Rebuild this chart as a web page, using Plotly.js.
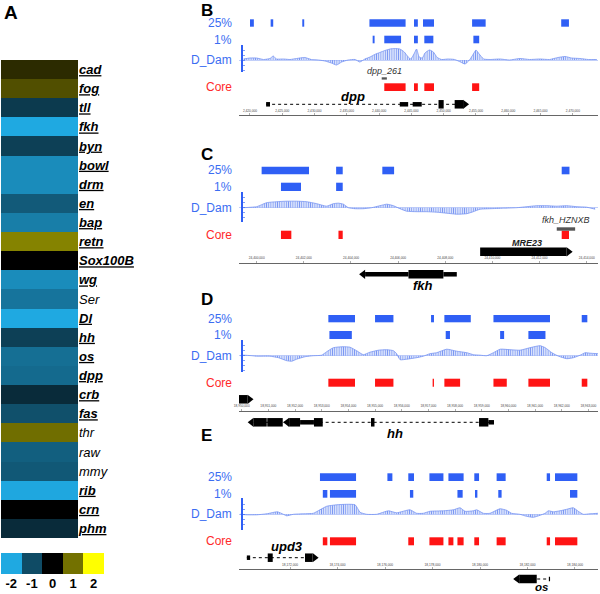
<!DOCTYPE html>
<html><head><meta charset="utf-8">
<script src="https://cdn.plot.ly/plotly-3.0.1.min.js"></script>
<style>html,body{margin:0;padding:0;background:#fff}#chart{width:600px;height:594px}</style>
</head><body><div id="chart"></div>
<script>
// ---------------- Panel A data ----------------
const genes = ['cad','fog','tll','fkh','byn','bowl','drm','en','bap','retn','Sox100B','wg','Ser','Dl','hh','os','dpp','crb','fas','thr','raw','mmy','rib','crn','phm'];
const foldChange = [0.38,0.7,-0.77,-2,-0.85,-1.69,-1.69,-1.16,-1.54,1.13,0,-1.69,-1.44,-2,-0.85,-1.38,-1.33,-0.57,-1.05,0.97,-1.21,-1.14,-1.98,0,-0.57];
const validated = [1,1,1,1,1,1,1,1,1,1,1,1,0,1,1,1,1,1,1,0,0,0,1,1,1];
const scaleVals = [-2,-1,0,1,2];

// ---------------- Panel B (dpp) ----------------
const B_range = [2418.3,2473.9];
const B_ticks = [2420,2425,2430,2435,2440,2445,2450,2455,2460,2465,2470];
const B_p25 = [[2420.0,2420.6],[2423.2,2423.6],[2428.1,2428.4],[2438.5,2444.1],[2445.4,2446.0],[2446.8,2448.5],[2454.4,2456.5],[2468.2,2469.4]];
const B_p1 = [[2439.0,2439.3],[2440.8,2443.4],[2445.4,2446.0],[2447.0,2448.4],[2454.6,2455.5]];
const B_core = [[2440.8,2444.1],[2445.4,2446.0],[2447.0,2448.5],[2454.4,2455.5]];
const B_sigX = [2419.0,2420.0,2421.0,2422.1,2423.1,2423.6,2424.1,2425.2,2426.2,2427.2,2428.5,2429.5,2430.6,2431.6,2432.6,2433.4,2434.2,2435.2,2436.3,2437.0,2437.8,2438.6,2439.3,2440.1,2440.9,2441.7,2442.4,2443.2,2443.9,2444.5,2444.9,2445.4,2445.8,2446.2,2446.7,2447.1,2447.8,2448.4,2449.0,2449.7,2450.7,2451.7,2452.6,2453.3,2454.0,2454.6,2455.0,2455.5,2456.2,2457.2,2458.7,2460.2,2461.8,2463.3,2464.9,2466.4,2467.7,2468.8,2469.8,2471.1,2472.4,2473.7];
const B_sigY = [0.1,0.2,0.2,0.05,0.15,0.4,0.1,0.1,0.05,0.15,0.25,0.05,0.0,-0.1,-0.3,-0.5,-0.2,0.0,0.05,-0.2,0.1,0.3,0.55,0.75,0.95,1.1,1.15,1.1,0.8,0.3,0.1,0.6,1.1,0.3,0.2,0.7,1.0,0.8,0.25,0.05,0.1,0.05,-0.2,-0.4,0.0,0.6,1.0,0.6,0.1,0.05,0.1,0.0,0.15,0.05,0.1,0.05,0.25,0.35,0.2,0.15,0.05,0.05];
const B_probes = [{name:'dpp_261', start:2440.4, end:2441.2}];
const B_genes = [{name:'dpp', strand:'+', exons:[[2422.5,2423.1,'utr'],[2443.2,2444.5,'utr'],[2445.2,2446.6,'utr'],[2449.2,2450.0,'cds'],[2451.7,2453.0,'cds']], arrowAt:[2453.0], labelAt:2435.9, intron:true}];

// ---------------- Panel C (fkh) ----------------
const C_range = [24399.25,24414.48];
const C_ticks = [24400,24402,24404,24406,24408,24410,24412,24414];
const C_p25 = [[24400.21,24402.22],[24403.37,24403.65],[24405.33,24405.83],[24412.94,24413.27]];
const C_p1 = [[24401.03,24401.88],[24403.37,24403.65]];
const C_core = [[24401.03,24401.47],[24403.47,24403.65],[24412.94,24413.25]];
const C_sigX = [24399.43,24400.0,24400.21,24400.42,24400.85,24401.27,24401.70,24402.12,24402.55,24402.97,24403.25,24403.47,24403.68,24403.89,24404.17,24404.53,24404.88,24405.23,24405.52,24405.80,24406.08,24406.36,24406.79,24407.21,24407.64,24408.06,24408.49,24408.91,24409.19,24409.48,24409.90,24410.47,24411.03,24411.46,24411.88,24412.31,24412.73,24413.15,24413.58,24414.00,24414.36];
const C_sigY = [0.0,0.1,0.3,0.5,0.6,0.65,0.65,0.6,0.4,0.15,0.4,0.45,0.35,0.0,-0.1,-0.1,0.0,0.2,0.35,0.2,-0.1,-0.35,-0.4,-0.4,-0.45,-0.55,-0.65,-0.6,-0.4,-0.15,-0.1,-0.05,0.0,0.1,0.2,0.2,0.15,0.2,0.1,0.05,-0.15];
const C_probes = [{name:'fkh_HZNXB', start:24412.73, end:24413.51}];
const C_genes = [
  {name:'MRE23', strand:'+', exons:[[24409.48,24413.15,'cds']], arrowAt:[24413.15], labelAt:24411.46, intron:false},
  {name:'fkh', strand:'-', exons:[[24404.6,24406.44,'utr'],[24406.44,24407.92,'cds'],[24407.92,24408.49,'utr']], arrowAt:[24404.6], labelAt:24407.07, intron:false}
];

// ---------------- Panel D (hh) ----------------
const D_range = [18949.9,18963.36];
const D_ticks = [18950,18951,18952,18953,18954,18955,18956,18957,18958,18959,18960,18961,18962,18963];
const D_p25 = [[18953.25,18954.25],[18955.0,18955.69],[18957.1,18957.21],[18957.6,18958.59],[18959.44,18961.56],[18962.75,18962.96]];
const D_p1 = [[18953.29,18954.13],[18957.65,18957.81],[18959.69,18959.84],[18960.75,18961.39]];
const D_core = [[18953.25,18954.25],[18955.0,18955.69],[18957.16,18957.21],[18957.6,18958.19],[18959.44,18959.94],[18960.75,18961.56],[18962.75,18962.96]];
const D_sigX = [18949.94,18950.06,18950.38,18950.56,18951.06,18951.38,18951.69,18951.88,18952.06,18952.38,18952.69,18953.0,18953.19,18953.44,18953.81,18954.06,18954.31,18954.56,18954.81,18955.13,18955.44,18955.69,18955.81,18955.94,18956.19,18956.56,18956.81,18957.06,18957.31,18957.69,18958.06,18958.44,18958.69,18958.94,18959.19,18959.44,18959.69,18960.06,18960.44,18960.81,18961.19,18961.38,18961.63,18961.88,18962.19,18962.44,18962.69,18962.88,18963.06,18963.36];
const D_sigY = [0.0,0.05,0.0,-0.05,-0.05,-0.2,-0.5,-0.55,-0.35,-0.1,0.0,0.05,0.4,0.8,0.9,0.85,0.5,0.1,0.35,0.55,0.6,0.5,0.2,-0.4,-0.35,-0.2,-0.05,0.2,0.3,0.65,0.45,0.3,0.1,0.05,0.0,0.3,0.65,0.6,0.55,0.8,1.0,0.8,0.3,-0.05,-0.3,-0.2,0.05,0.3,0.25,0.2];
const D_probes = [];
const D_genes = [
  {name:'', strand:'+', exons:[[18949.9,18950.22,'cds']], arrowAt:[18950.22], labelAt:null, intron:false},
  {name:'hh', strand:'-', exons:[[18950.45,18950.94,'cds'],[18950.96,18951.54,'cds'],[18951.78,18952.19,'cds'],[18952.19,18952.71,'utr'],[18952.71,18953.04,'cds'],[18954.85,18954.98,'cds'],[18958.9,18959.25,'cds'],[18959.25,18959.46,'utr']], arrowAt:[18950.45,18951.78], labelAt:18955.75, intron:true}
];

// ---------------- Panel E (upd3 / os) ----------------
const E_range = [18169.85,18184.97];
const E_ticks = [18172,18174,18176,18178,18180,18182,18184];
const E_p25 = [[18173.26,18174.78],[18176.10,18176.31],[18176.98,18177.22],[18177.87,18178.46],[18178.67,18179.31],[18179.76,18179.96],[18180.70,18181.08],[18182.81,18182.95],[18183.16,18184.10]];
const E_p1 = [[18173.38,18173.57],[18173.68,18174.78],[18177.05,18177.19],[18179.05,18179.27],[18179.79,18179.89],[18180.77,18180.91],[18183.79,18184.10]];
const E_core = [[18173.38,18173.57],[18173.68,18174.78],[18176.98,18177.22],[18177.87,18178.46],[18178.67,18178.88],[18179.05,18179.31],[18179.76,18179.96],[18180.70,18181.08],[18182.81,18182.95],[18183.16,18184.10]];
const E_sigX = [18169.89,18170.18,18170.60,18171.02,18171.47,18171.72,18171.86,18172.14,18172.56,18172.98,18173.26,18173.54,18173.96,18174.39,18174.74,18174.95,18175.23,18175.65,18176.14,18176.49,18177.05,18177.33,18177.61,18177.89,18178.46,18178.88,18179.16,18179.37,18179.72,18179.86,18180.14,18180.42,18180.84,18181.12,18181.33,18181.68,18181.96,18182.25,18182.53,18182.74,18182.88,18183.09,18183.37,18183.65,18183.93,18184.14,18184.35,18184.63,18184.97];
const E_sigY = [0.0,-0.05,-0.05,0.05,0.25,0.0,-0.15,0.0,0.05,0.1,0.45,0.8,0.95,1.0,0.95,0.2,0.0,0.0,0.35,0.15,0.45,0.1,0.1,0.3,0.35,0.45,0.65,0.3,0.35,0.45,0.1,0.1,0.55,0.4,0.1,0.0,-0.2,-0.3,-0.1,0.1,0.35,0.25,0.35,0.5,0.65,0.3,0.0,0.05,0.1];
const E_probes = [];
const E_genes = [
  {name:'upd3', strand:'+', exons:[[18170.18,18170.32,'utr'],[18171.06,18171.27,'cds'],[18172.63,18172.95,'cds']], arrowAt:[18172.95], labelAt:18171.86, intron:true},
  {name:'os', strand:'-', exons:[[18181.65,18182.39,'cds'],[18182.90,18182.95,'utr']], arrowAt:[18181.65], labelAt:18182.6, intron:true}
];

// ---------------- layout constants (pixels) ----------------
const W = 600, H = 594;
const fx = v => v / W;
const fy = v => 1 - v / H;
const BLUE = '#2f5ff5', BLUE_TXT = '#3b6df2', RED = '#ff1414', RED_TXT = '#ff2a2a';
const FONT = 'Liberation Sans, Arial, Helvetica, sans-serif';
const X0 = 239, X1 = 598, SIGX = 242, LABX = 234;

const panels = [
  {letter:'B', letterY:10.5, range:B_range, ticks:B_ticks, p25:B_p25, p1:B_p1, core:B_core, sigX:B_sigX, sigY:B_sigY, probes:B_probes, genes:B_genes,
   rows:{p25:[19.3,26.7], p1:[35.7,43.3], sig:[45,72,60], core:[83.3,91], ruler:115, probe:[77.3,79.6,71.5]},
   geneRows:[[104.3,96]]},
  {letter:'C', letterY:154, range:C_range, ticks:C_ticks, p25:C_p25, p1:C_p1, core:C_core, sigX:C_sigX, sigY:C_sigY, probes:C_probes, genes:C_genes,
   rows:{p25:[166.7,174.3], p1:[182.7,191], sig:[192.3,222.3,207.7], core:[230.7,239], ruler:262.7, probe:[227.3,230.7,220]},
   geneRows:[[251.8,243.3],[274.3,285.7]]},
  {letter:'D', letterY:299, range:D_range, ticks:D_ticks, p25:D_p25, p1:D_p1, core:D_core, sigX:D_sigX, sigY:D_sigY, probes:D_probes, genes:D_genes,
   rows:{p25:[315,322.3], p1:[331,339], sig:[340,371.7,355.7], core:[378.7,386.7], ruler:410.7},
   geneRows:[[399.3,null],[422.3,433.3]]},
  {letter:'E', letterY:435, range:E_range, ticks:E_ticks, p25:E_p25, p1:E_p1, core:E_core, sigX:E_sigX, sigY:E_sigY, probes:E_probes, genes:E_genes,
   rows:{p25:[473.3,481], p1:[490,497.7], sig:[498.3,530,514.3], core:[537.3,545.3], ruler:569.3},
   geneRows:[[557.7,546.7],[579,586.8]]}
];

const cscale = [[0,'#1fa9e1'],[0.25,'#0f4b65'],[0.5,'#000000'],[0.75,'#737100'],[1,'#ffff00']];
const fmtLabel = (g, v) => v ? '<b><i><u>' + g + '</u></i></b>' : '<i>' + g + '</i>';

const traces = [
  {type:'heatmap', x:[0], y:genes, z:foldChange.map(v => [v]), xaxis:'x', yaxis:'y', colorscale:cscale, zmin:-2, zmax:2, showscale:false, hoverinfo:'skip'},
  {type:'heatmap', x:scaleVals, y:[0], z:[scaleVals], xaxis:'x2', yaxis:'y2', colorscale:cscale, zmin:-2, zmax:2, showscale:false, hoverinfo:'skip'}
];

const layout = {
  width:W, height:H, margin:{l:0,r:0,t:0,b:0}, paper_bgcolor:'#fff', plot_bgcolor:'rgba(0,0,0,0)',
  showlegend:false, font:{family:FONT, color:'#000'}, shapes:[], annotations:[],
  xaxis:{domain:[fx(1),fx(78)], range:[-0.5,0.5], showticklabels:false, ticks:'', showgrid:false, zeroline:false, anchor:'y'},
  yaxis:{domain:[fy(538),fy(60)], type:'category', autorange:'reversed', side:'right', anchor:'x',
         tickvals:genes, ticktext:genes.map((g,i) => fmtLabel(g, validated[i])), ticks:'', showgrid:false, zeroline:false,
         tickfont:{size:13, family:FONT, color:'#000'}},
  xaxis2:{domain:[fx(1),fx(104)], anchor:'y2', tickvals:scaleVals, ticktext:scaleVals.map(v => '<b>' + v + '</b>'), ticks:'', showgrid:false, zeroline:false,
          tickfont:{size:13, family:FONT, color:'#000'}},
  yaxis2:{domain:[fy(574),fy(553)], anchor:'x2', showticklabels:false, ticks:'', showgrid:false, zeroline:false}
};

layout.annotations.push({text:'<b>A</b>', xref:'paper', yref:'paper', x:fx(2), y:fy(12), xanchor:'left', yanchor:'middle', showarrow:false, font:{size:19, family:FONT}});

const rect = (xa, x0, x1, yTop, yBot, color) => ({type:'rect', xref:xa, yref:'paper', x0:x0, x1:x1, y0:fy(yBot), y1:fy(yTop), fillcolor:color, line:{width:0}, layer:'above'});

panels.forEach((p, i) => {
  const n = i + 3, xa = 'x' + n, ya = 'y' + n, r = p.rows;
  layout['xaxis' + n] = {domain:[fx(X0),fx(X1)], range:p.range, anchor:'free', position:fy(r.ruler), side:'top',
    showline:true, linecolor:'#666', linewidth:1, ticks:'outside', ticklen:2, tickwidth:0.6, tickcolor:'#777',
    tickvals:p.ticks, ticktext:p.ticks.map(t => Math.round(t * 1000).toLocaleString('en-US')),
    tickfont:{size:3.2, color:'#444', family:FONT}, showgrid:false, zeroline:false};
  const [sTop, sBot, sBase] = r.sig;
  layout['yaxis' + n] = {domain:[fy(sBot), fy(sTop)], range:[-(sBot - sBase) / 10, (sBase - sTop) / 10], anchor:'free', position:fx(SIGX),
    showline:true, linecolor:BLUE, linewidth:2, ticks:'inside', ticklen:2, tickwidth:0.6, tickcolor:BLUE, dtick:0.5,
    showticklabels:false, showgrid:false, zeroline:true, zerolinecolor:'#b3c3f7', zerolinewidth:0.8};

  traces.push({type:'scatter', mode:'lines', x:p.sigX, y:p.sigY, xaxis:xa, yaxis:ya,
    line:{color:'#7896f3', width:0.8, shape:'spline', smoothing:0.5}, fill:'tozeroy', fillcolor:'rgba(170,190,250,0.35)',
    fillpattern:{shape:'|', size:2.2, solidity:0.45, fgcolor:'#7c98f2', bgcolor:'rgba(205,215,250,0.4)'}, hoverinfo:'skip'});

  p.p25.forEach(([a, b]) => layout.shapes.push(rect(xa, a, b, r.p25[0], r.p25[1], BLUE)));
  p.p1.forEach(([a, b]) => layout.shapes.push(rect(xa, a, b, r.p1[0], r.p1[1], BLUE)));
  p.core.forEach(([a, b]) => layout.shapes.push(rect(xa, a, b, r.core[0], r.core[1], RED)));

  p.probes.forEach(pr => {
    layout.shapes.push(rect(xa, pr.start, pr.end, r.probe[0], r.probe[1], '#555'));
    layout.annotations.push({text:'<i>' + pr.name + '</i>', xref:xa, yref:'paper', x:(pr.start + pr.end) / 2, y:fy(r.probe[2]),
      xanchor:'center', yanchor:'middle', showarrow:false, font:{size:9, color:'#333', family:FONT}});
  });

  p.genes.forEach((g, gi) => {
    const [gy, ly] = p.geneRows[gi];
    const starts = g.exons.map(e => e[0]), ends = g.exons.map(e => e[1]);
    const gMin = Math.min(...starts), gMax = Math.max(...ends);
    if (g.intron) {
      layout.shapes.push({type:'line', xref:xa, yref:'paper', x0:gMin, x1:gMax, y0:fy(gy), y1:fy(gy), line:{color:'#000', width:1, dash:'dot'}, layer:'above'});
    }
    g.exons.forEach(([a, b, t]) => {
      const h = t === 'cds' ? 8.5 : 4.5;
      layout.shapes.push(rect(xa, a, b, gy - h / 2, gy + h / 2, '#000'));
    });
    g.arrowAt.forEach(ax => {
      const d = g.strand === '+' ? 6 : -6;
      layout.shapes.push({type:'path', xref:xa, yref:'paper', xsizemode:'pixel', ysizemode:'pixel', xanchor:ax, yanchor:fy(gy),
        path:'M0,-4.6 L' + d + ',0 L0,4.6 Z', fillcolor:'#000', line:{width:0}, layer:'above'});
    });
    if (g.name && ly !== null) {
      const small = g.name === 'MRE23';
      layout.annotations.push({text:'<b><i>' + g.name + '</i></b>', xref:xa, yref:'paper', x:g.labelAt, y:fy(ly),
        xanchor:'center', yanchor:'middle', showarrow:false, font:{size:small ? 9 : (g.name === 'os' ? 11.5 : 13), color:small ? '#222' : '#000', family:FONT}});
    }
  });

  const lab = (t, y, c) => layout.annotations.push({text:t, xref:'paper', yref:'paper', x:fx(LABX), y:fy(y), xanchor:'right', yanchor:'middle', showarrow:false, font:{size:12, color:c, family:FONT}});
  lab('25%', (r.p25[0] + r.p25[1]) / 2, BLUE_TXT);
  lab('1%', (r.p1[0] + r.p1[1]) / 2, BLUE_TXT);
  lab('D_Dam', sBase, BLUE_TXT);
  lab('Core', (r.core[0] + r.core[1]) / 2, RED_TXT);
  layout.annotations.push({text:'<b>' + p.letter + '</b>', xref:'paper', yref:'paper', x:fx(199), y:fy(p.letterY), xanchor:'left', yanchor:'middle', showarrow:false, font:{size:17, family:FONT}});
});

Plotly.newPlot('chart', traces, layout, {staticPlot:true, displayModeBar:false});
</script></body></html>
